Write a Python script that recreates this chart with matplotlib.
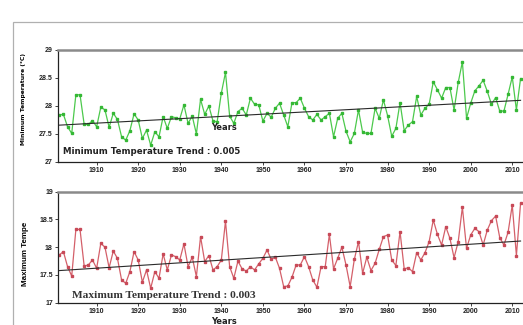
import numpy as np
import matplotlib
matplotlib.use("Agg")
import matplotlib.pyplot as plt
from matplotlib.patches import Rectangle

# annual series, 1901-2012
years = np.arange(1901, 2013)

tmin = [
    27.84, 27.85, 27.63, 27.51, 28.20, 28.20, 27.67, 27.67, 27.74, 27.63,
    27.98, 27.93, 27.62, 27.87, 27.76, 27.45, 27.39, 27.56, 27.86, 27.75,
    27.42, 27.57, 27.30, 27.54, 27.45, 27.81, 27.60, 27.81, 27.79, 27.77,
    28.02, 27.69, 27.82, 27.50, 28.12, 27.85, 28.00, 27.73, 27.72, 28.23,
    28.60, 27.82, 27.69, 27.90, 27.96, 27.84, 28.14, 28.03, 28.02, 27.73,
    27.87, 27.80, 27.96, 28.05, 27.84, 27.63, 28.06, 28.06, 28.14, 27.96,
    27.81, 27.75, 27.85, 27.75, 27.81, 27.87, 27.45, 27.78, 27.87, 27.55,
    27.36, 27.51, 27.93, 27.53, 27.51, 27.51, 27.96, 27.78, 28.11, 27.83,
    27.46, 27.60, 28.06, 27.56, 27.66, 27.72, 28.17, 27.84, 27.96, 28.03,
    28.43, 28.29, 28.14, 28.33, 28.33, 27.93, 28.42, 28.79, 27.78, 28.05,
    28.27, 28.36, 28.46, 28.26, 28.03, 28.15, 27.91, 27.91, 28.21, 28.52,
    27.93, 28.49,
]

tmax = [
    17.86, 17.92, 17.65, 17.48, 18.32, 18.32, 17.66, 17.68, 17.77, 17.62,
    18.07, 18.00, 17.63, 17.93, 17.80, 17.41, 17.35, 17.56, 17.92, 17.77,
    17.37, 17.59, 17.26, 17.56, 17.44, 17.88, 17.59, 17.86, 17.83, 17.77,
    18.06, 17.65, 17.82, 17.47, 18.19, 17.74, 17.85, 17.59, 17.65, 17.77,
    18.47, 17.65, 17.44, 17.75, 17.61, 17.57, 17.65, 17.59, 17.70, 17.80,
    17.95, 17.78, 17.82, 17.62, 17.29, 17.30, 17.46, 17.68, 17.68, 17.83,
    17.65, 17.41, 17.28, 17.65, 17.65, 18.23, 17.61, 17.80, 18.00, 17.68,
    17.29, 17.78, 18.10, 17.53, 17.82, 17.58, 17.71, 17.96, 18.19, 18.22,
    17.77, 17.67, 18.28, 17.61, 17.63, 17.56, 17.90, 17.77, 17.90, 18.10,
    18.49, 18.23, 18.04, 18.37, 18.16, 17.81, 18.10, 18.72, 17.98, 18.22,
    18.34, 18.28, 18.04, 18.31, 18.48, 18.56, 18.17, 18.04, 18.27, 18.76,
    17.85, 18.79,
]

decades = [1910, 1920, 1930, 1940, 1950, 1960, 1970, 1980, 1990, 2000, 2010]
tmin_ticks = [27, 27.5, 28, 28.5, 29]
tmax_ticks = [17, 17.5, 18, 18.5, 19]
tmin_trend_label = "Minimum Temperature Trend : 0.005"
tmax_trend_label = "Maximum Temperature Trend : 0.003"

W, H = 523, 325
fig = plt.figure(figsize=(W / 100, H / 100), dpi=100)

# light frame around the whole figure
fig.add_artist(Rectangle((13 / W, -0.2), 2.0, (H - 22) / H + 0.2,
                         transform=fig.transFigure, fill=False,
                         edgecolor="#b0b0b0", lw=0.9))

px_per_year = 4.156
x_left = 1900.7
x_right = 2020
ax_px = (x_right - x_left) * px_per_year
ax_w = ax_px / W


def bold_ticks(ax):
    for lab in ax.get_xticklabels() + ax.get_yticklabels():
        lab.set_fontfamily("Liberation Sans")
        lab.set_fontweight("bold")


def make_axes(top_px, bot_px):
    ax = fig.add_axes([58 / W, 1 - bot_px / H, ax_w, (bot_px - top_px) / H])
    ax.set_xlim(x_left, x_right)
    ax.spines["right"].set_visible(False)
    ax.spines["top"].set_color("#8a8a8a")
    ax.spines["top"].set_linewidth(1.8)
    for s in ("left", "bottom"):
        ax.spines[s].set_linewidth(0.9)
        ax.spines[s].set_color("#222222")
    ax.set_xticks(decades)
    ax.tick_params(axis="both", length=2.5, width=0.6, pad=1.2,
                   labelsize=5.0, colors="#222222")
    return ax


def add_series(ax, vals, color, mcolor):
    ax.plot(years, vals, color=color, lw=0.9, marker="s", ms=1.6,
            mfc=mcolor, mec=mcolor, zorder=2)
    slope, icpt = np.polyfit(years, vals, 1)
    ax.plot(years, slope * years + icpt, color="#2a2a2a", lw=0.8, zorder=3)


# minimum temperature panel
ax1 = make_axes(50, 162)
ax1.set_ylim(27, 29)
ax1.set_yticks(tmin_ticks)
ax1.set_yticklabels(["27", "27.5", "28", "28.5", "29"])
bold_ticks(ax1)
add_series(ax1, tmin, "#4cc94c", "#35b835")
ax1.set_ylabel("Minimum Temperature (°C)", fontsize=4.3, fontweight="bold",
               fontfamily="DejaVu Sans")
ax1.yaxis.set_label_coords((26 - 58) / ax_px, (162 - 99) / 112)
ax1.text(223.5 / W, 1 - 128 / H, "Years", transform=fig.transFigure,
         fontsize=6.0, fontweight="bold", ha="center", va="center",
         color="#222222")
ax1.text(63 / W, 1 - 152 / H, tmin_trend_label, transform=fig.transFigure,
         fontsize=6.2, fontweight="bold", ha="left", va="center",
         color="#222222")

# maximum temperature panel
ax2 = make_axes(191.7, 302.7)
ax2.set_ylim(17, 19)
ax2.set_yticks(tmax_ticks)
ax2.set_yticklabels(["17", "17.5", "18", "18.5", "19"])
bold_ticks(ax2)
add_series(ax2, tmax, "#d4606a", "#c84a58")
ax2.set_ylabel("Maximum Tempe", fontsize=5.8, fontweight="bold",
               fontfamily="Liberation Sans")
ax2.yaxis.set_label_coords((29 - 58) / ax_px, (302.7 - 254) / 111)
ax2.text(223.5 / W, 1 - 322 / H, "Years", transform=fig.transFigure,
         fontsize=6.0, fontweight="bold", ha="center", va="center",
         color="#222222")
ax2.text(72 / W, 1 - 295 / H, tmax_trend_label, transform=fig.transFigure,
         fontsize=8.2, fontweight="bold", fontfamily="Liberation Serif",
         ha="left", va="center", color="#333333")

fig.savefig("out.png", dpi=100)
